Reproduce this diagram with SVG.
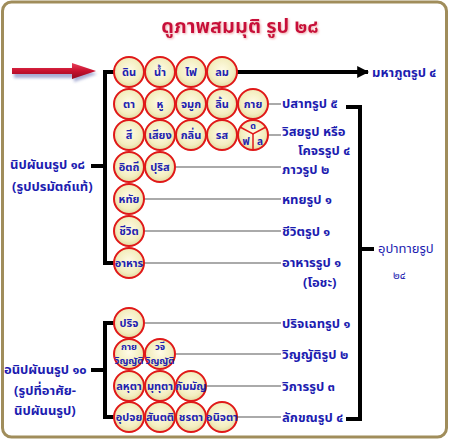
<svg xmlns="http://www.w3.org/2000/svg" width="450" height="441" viewBox="0 0 450 441">
<defs>
<radialGradient id="cg" cx="50%" cy="45%" r="55%">
<stop offset="0" stop-color="#fffbe6"/>
<stop offset="0.7" stop-color="#f3eec0"/>
<stop offset="1" stop-color="#e2d9a0"/>
</radialGradient>
<linearGradient id="ag" x1="0" y1="0" x2="0" y2="1">
<stop offset="0" stop-color="#e8405a"/>
<stop offset="0.5" stop-color="#c8102e"/>
<stop offset="1" stop-color="#900a20"/>
</linearGradient>
<filter id="sh" x="-10%" y="-20%" width="130%" height="160%">
<feDropShadow dx="1" dy="1" stdDeviation="0.8" flood-color="#f0a0a8" flood-opacity="0.9"/>
</filter>
<filter id="bl" x="-20%" y="-50%" width="140%" height="200%">
<feGaussianBlur stdDeviation="1.5"/>
</filter>
<marker id="ah" viewBox="0 0 10 10" refX="9" refY="5" markerWidth="3" markerHeight="3" orient="auto" markerUnits="strokeWidth">
<path d="M0,0 L10,5 L0,10 z" fill="#000"/>
</marker>
<style>
.c circle{fill:url(#cg);stroke:#e01818;stroke-width:2}
.c text{font-family:"Noto Sans Thai","Tahoma","Loma","Garuda","DejaVu Sans",sans-serif;font-size:11px;font-weight:bold;fill:#2222b0;text-anchor:middle;dominant-baseline:central}
.c text.s{font-size:9.5px}
.lb{font-family:"Noto Sans Thai","Tahoma","Loma","Garuda","DejaVu Sans",sans-serif;font-size:13px;font-weight:bold;fill:#1c1cb0;dominant-baseline:central}
.gn{font-weight:normal}
.k{stroke:#000;stroke-width:4;fill:none}
.g{stroke:#aaa;stroke-width:2;fill:none}
</style>
</defs>
<rect x="0" y="0" width="450" height="441" fill="#fff"/>
<rect x="2.5" y="2" width="444" height="435" rx="9" fill="#fff" stroke="#a08d5b" stroke-width="3"/>
<text x="240" y="27" text-anchor="middle" dominant-baseline="central" filter="url(#sh)" style="font-family:'Noto Sans Thai','Tahoma','DejaVu Sans',sans-serif;font-size:20px;font-weight:bold;fill:#c8103a">ดูภาพสมมุติ  รูป ๒๘</text>
<g id="arrow">
<polygon points="14,70 74,70 74,66 97,74 74,82 74,78 14,78" fill="#7078b8" opacity="0.6" filter="url(#bl)"/>
<polygon points="12,68 72,68 72,63 96,71 72,79 72,74 12,74" fill="url(#ag)"/>
</g>
<g id="connectors">
<polyline class="k" points="116,72 105,72 105,263 116,263"/>
<line class="k" x1="91" y1="166" x2="105" y2="166"/>
<line class="k" x1="237" y1="72" x2="368" y2="72" marker-end="url(#ah)"/>
<polyline class="k" points="346,107 360,107 360,419 346,419"/>
<line class="k" x1="360" y1="249" x2="374" y2="249"/>
<polyline class="k" points="116,323 105,323 105,417 116,417"/>
<line class="k" x1="91" y1="370" x2="105" y2="370"/>
<line class="g" x1="269" y1="104" x2="281" y2="104"/>
<line class="g" x1="269" y1="135" x2="281" y2="135"/>
<line class="g" x1="176" y1="167" x2="281" y2="167"/>
<line class="g" x1="144" y1="199" x2="281" y2="199"/>
<line class="g" x1="144" y1="231" x2="281" y2="231"/>
<line class="g" x1="144" y1="263" x2="281" y2="263"/>
<line class="g" x1="145" y1="323" x2="281" y2="323"/>
<line class="g" x1="176" y1="354" x2="281" y2="354"/>
<line class="g" x1="207" y1="386" x2="281" y2="386"/>
<line class="g" x1="238" y1="417" x2="281" y2="417"/>
</g>
<g id="row1" class="c">
<circle cx="129" cy="72" r="15"/><text x="129" y="72">ดิน</text>
<circle cx="160" cy="72" r="15"/><text x="160" y="72">น้ำ</text>
<circle cx="191" cy="72" r="15"/><text x="191" y="72">ไฟ</text>
<circle cx="222" cy="72" r="15"/><text x="222" y="72">ลม</text>
</g>
<g id="row2" class="c">
<circle cx="129" cy="104" r="15"/><text x="129" y="104">ตา</text>
<circle cx="160" cy="104" r="15"/><text x="160" y="104">หู</text>
<circle cx="191" cy="104" r="15"/><text x="191" y="104">จมูก</text>
<circle cx="222" cy="104" r="15"/><text x="222" y="104">ลิ้น</text>
<circle cx="253" cy="104" r="15"/><text x="253" y="104">กาย</text>
</g>
<g id="row3" class="c">
<circle cx="129" cy="135" r="15"/><text x="129" y="135">สี</text>
<circle cx="160" cy="135" r="15"/><text x="160" y="135">เสียง</text>
<circle cx="191" cy="135" r="15"/><text x="191" y="135">กลิ่น</text>
<circle cx="222" cy="135" r="15"/><text x="222" y="135">รส</text>
<circle cx="253" cy="135" r="15"/>
<polyline points="240,127 253,134 266,127" fill="none" stroke="#e01818" stroke-width="1.5"/>
<line x1="253" y1="134" x2="253" y2="150" stroke="#e01818" stroke-width="1.5"/>
<text x="253" y="126" style="font-size:9px">ด</text>
<text x="246" y="142" style="font-size:10px">ฟ</text>
<text x="260" y="142" style="font-size:10px">ล</text>
</g>
<g id="row4" class="c">
<circle cx="129" cy="167" r="15"/><text x="129" y="167">อิตถี</text>
<circle cx="160" cy="167" r="15"/><text x="160" y="167">ปุริส</text>
</g>
<g id="row5" class="c">
<circle cx="129" cy="199" r="15"/><text x="129" y="199">หทัย</text>
</g>
<g id="row6" class="c">
<circle cx="129" cy="231" r="15"/><text x="129" y="231">ชีวิต</text>
</g>
<g id="row7" class="c">
<circle cx="129" cy="263" r="15"/><text x="129" y="263">อาหาร</text>
</g>
<g id="row8" class="c">
<circle cx="129" cy="323" r="15"/><text x="129" y="323">ปริจ</text>
</g>
<g id="row9" class="c">
<circle cx="129" cy="354" r="15"/><text class="s" x="129" y="346.5">กาย</text><text class="s" x="129" y="361">วิญญัติ</text>
<circle cx="160" cy="354" r="15"/><text class="s" x="160" y="346.5">วจี</text><text class="s" x="160" y="361">วิญญัติ</text>
</g>
<g id="row10" class="c">
<circle cx="129" cy="386" r="15"/><text x="129" y="386">ลหุตา</text>
<circle cx="160" cy="386" r="15"/><text x="160" y="386">มุทุตา</text>
<circle cx="191" cy="386" r="15"/><text x="191" y="386">กัมมัญ</text>
</g>
<g id="row11" class="c">
<circle cx="129" cy="417" r="15"/><text x="129" y="417">อุปจย</text>
<circle cx="160" cy="417" r="15"/><text x="160" y="417">สันตติ</text>
<circle cx="191" cy="417" r="15"/><text x="191" y="417">ชรตา</text>
<circle cx="222" cy="417" r="15"/><text x="222" y="417">อนิจตา</text>
</g>
<g id="labels">
<text class="lb" x="372" y="73">มหาภูตรูป ๔</text>
<text class="lb" x="282" y="104">ปสาทรูป ๕</text>
<text class="lb" x="282" y="132">วิสยรูป หรือ</text>
<text class="lb" x="298" y="151">โคจรรูป ๔</text>
<text class="lb" x="282" y="170">ภาวรูป ๒</text>
<text class="lb" x="282" y="200">หทยรูป ๑</text>
<text class="lb" x="282" y="232">ชีวิตรูป ๑</text>
<text class="lb" x="282" y="263">อาหารรูป ๑</text>
<text class="lb" x="303" y="283">(โอชะ)</text>
<text class="lb" x="282" y="324">ปริจเฉทรูป ๑</text>
<text class="lb" x="282" y="355">วิญญัติรูป ๒</text>
<text class="lb" x="282" y="387">วิการรูป ๓</text>
<text class="lb" x="282" y="418">ลักขณรูป ๔</text>
<text class="lb gn" x="378" y="249">อุปาทายรูป</text>
<text class="lb gn" x="393" y="275" style="font-size:11px">๒๔</text>
<text class="lb" x="10" y="165">นิปผันนรูป ๑๘</text>
<text class="lb" x="12" y="187">(รูปปรมัตถ์แท้)</text>
<text class="lb" x="4" y="370">อนิปผันนรูป ๑๐</text>
<text class="lb" x="14" y="391">(รูปที่อาศัย-</text>
<text class="lb" x="14" y="411">นิปผันนรูป)</text>
</g>
</svg>
